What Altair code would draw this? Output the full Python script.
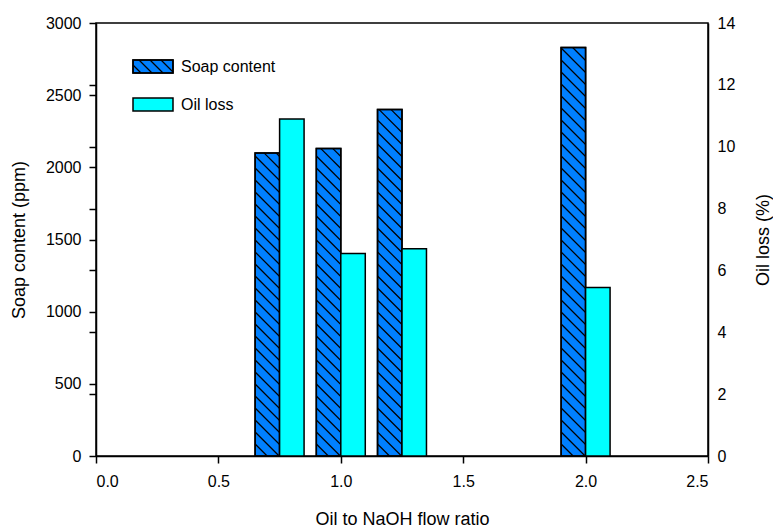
import altair as alt
import pandas as pd

# Measured series
ratio = [0.75, 1.0, 1.25, 2.0]            # oil to NaOH flow ratio
soap_ppm = [2100, 2130, 2400, 2830]       # soap content (ppm)
oil_loss = [10.9, 6.55, 6.7, 5.45]        # oil loss (%)
series_labels = ["Soap content", "Oil loss"]

# Axis ticks
x_ticks = [0.0, 0.5, 1.0, 1.5, 2.0, 2.5]
soap_ticks = [0, 500, 1000, 1500, 2000, 2500, 3000]
oil_ticks = [0, 2, 4, 6, 8, 10, 12, 14]

# Layout / styling
W, H = 612, 433
X_MAX, SOAP_MAX, OIL_MAX = 2.5, 3000, 14
BAR_W = 0.1
FONT = "Liberation Sans"
BLUE = "#0080ff"
CYAN = "#00ffff"
HATCH_STEP = 12  # px between hatch lines

df = pd.DataFrame({"ratio": ratio, "soap": soap_ppm, "oil": oil_loss})

x_scale = alt.Scale(domain=[0, X_MAX], nice=False, zero=False)
soap_scale = alt.Scale(domain=[0, SOAP_MAX], nice=False)
oil_scale = alt.Scale(domain=[0, OIL_MAX], nice=False)

# left axis also carries ticks at the right-axis positions
left_tick_vals = sorted(set(
    [float(v) for v in soap_ticks] +
    [round(v * SOAP_MAX / OIL_MAX, 6) for v in oil_ticks]
))

x_axis = alt.Axis(
    values=x_ticks, format=".1f", title="Oil to NaOH flow ratio",
    tickSize=7, labelPadding=10, titlePadding=21, grid=False,
)
left_axis = alt.Axis(
    values=left_tick_vals, title="Soap content (ppm)",
    labelExpr="abs(datum.value % 500) < 0.01 ? format(datum.value, 'd') : ''",
    tickSize=7, labelPadding=8, titlePadding=17, grid=False,
)
right_axis = alt.Axis(
    orient="right", values=oil_ticks, title="Oil loss (%)", format="d",
    ticks=False, labelPadding=9, titlePadding=38, titleAngle=270, grid=False,
)

soap_bars = alt.Chart(df).transform_calculate(
    x0=f"datum.ratio - {BAR_W}", base="0"
).mark_rect(fill=BLUE, stroke="black", strokeWidth=1.5).encode(
    x=alt.X("x0:Q", scale=x_scale, axis=x_axis),
    x2="ratio:Q",
    y=alt.Y("soap:Q", scale=soap_scale, axis=left_axis),
    y2="base:Q",
)

# diagonal hatch segments inside each soap bar, built from the bar values
px_x = W / X_MAX
px_y = H / SOAP_MAX
rows = []
for r, s in zip(ratio, soap_ppm):
    w = BAR_W * px_x
    h = s * px_y
    k = HATCH_STEP
    while k < h + w:
        u0, u1 = max(0.0, k - h), min(w, k)
        if u1 - u0 > 0.5:
            rows.append({
                "hx": r - BAR_W + u0 / px_x, "hy": (k - u0) / px_y,
                "hx2": r - BAR_W + u1 / px_x, "hy2": (k - u1) / px_y,
            })
        k += HATCH_STEP
hatch_df = pd.DataFrame(rows)

hatch = alt.Chart(hatch_df).mark_rule(color="black", strokeWidth=1.2).encode(
    x=alt.X("hx:Q", scale=x_scale, axis=x_axis),
    x2="hx2:Q",
    y=alt.Y("hy:Q", scale=soap_scale, axis=left_axis),
    y2="hy2:Q",
)

# redraw soap outlines over the hatching
soap_outline = alt.Chart(df).transform_calculate(
    x0=f"datum.ratio - {BAR_W}", base="0"
).mark_rect(fill=None, stroke="black", strokeWidth=1.5).encode(
    x=alt.X("x0:Q", scale=x_scale, axis=x_axis),
    x2="ratio:Q",
    y=alt.Y("soap:Q", scale=soap_scale, axis=left_axis),
    y2="base:Q",
)

oil_bars = alt.Chart(df).transform_calculate(
    x1=f"datum.ratio + {BAR_W}", base="0"
).mark_rect(fill=CYAN, stroke="black", strokeWidth=1.5).encode(
    x=alt.X("ratio:Q", scale=x_scale, axis=x_axis),
    x2="x1:Q",
    y=alt.Y("oil:Q", scale=oil_scale, axis=right_axis),
    y2="base:Q",
)

# legend drawn inside the plot area
SW_L, SW_W, SW_H = 37, 40, 13


def legend_entry(label, top, fill, hatched):
    box = dict(x=alt.value(SW_L), x2=alt.value(SW_L + SW_W),
               y=alt.value(top), y2=alt.value(top + SW_H))
    one = pd.DataFrame({"label": [label]})
    parts = [alt.Chart(one).mark_rect(fill=fill, stroke="black", strokeWidth=1.5).encode(**box)]
    if hatched:
        for off in range(8, SW_W + SW_H, 11):
            a0 = max(0, off - SW_H)
            a1 = min(SW_W, off)
            parts.append(alt.Chart(one).mark_rule(color="black", strokeWidth=1.2).encode(
                x=alt.value(SW_L + a0), x2=alt.value(SW_L + a1),
                y=alt.value(top + SW_H - (off - a0)),
                y2=alt.value(top + SW_H - (off - a1)),
            ))
        parts.append(alt.Chart(one).mark_rect(fill=None, stroke="black", strokeWidth=1.5).encode(**box))
    parts.append(alt.Chart(one).mark_text(
        align="left", baseline="middle", font=FONT, fontSize=16, color="black"
    ).encode(x=alt.value(85), y=alt.value(top + 6.5), text="label:N"))
    return alt.layer(*parts)


legend_soap = legend_entry(series_labels[0], 37, BLUE, True)
legend_oil = legend_entry(series_labels[1], 75, CYAN, False)

soap_layer = alt.layer(soap_bars, hatch, soap_outline)

chart = alt.layer(soap_layer, oil_bars, legend_soap, legend_oil).resolve_scale(
    y="independent"
).properties(
    width=W, height=H,
    padding={"left": 96, "top": 23, "right": 65, "bottom": 73},
    autosize=alt.AutoSizeParams(type="none"),
).configure_view(
    stroke="black", strokeWidth=1.5
).configure_axis(
    domainColor="black", domainWidth=1.5, tickColor="black", tickWidth=1.5,
    labelColor="black", titleColor="black", labelFont=FONT, titleFont=FONT,
    labelFontSize=16, titleFontSize=18, titleFontWeight="normal",
)

chart.save("out.html", embed_options={"renderer": "svg", "actions": False})
